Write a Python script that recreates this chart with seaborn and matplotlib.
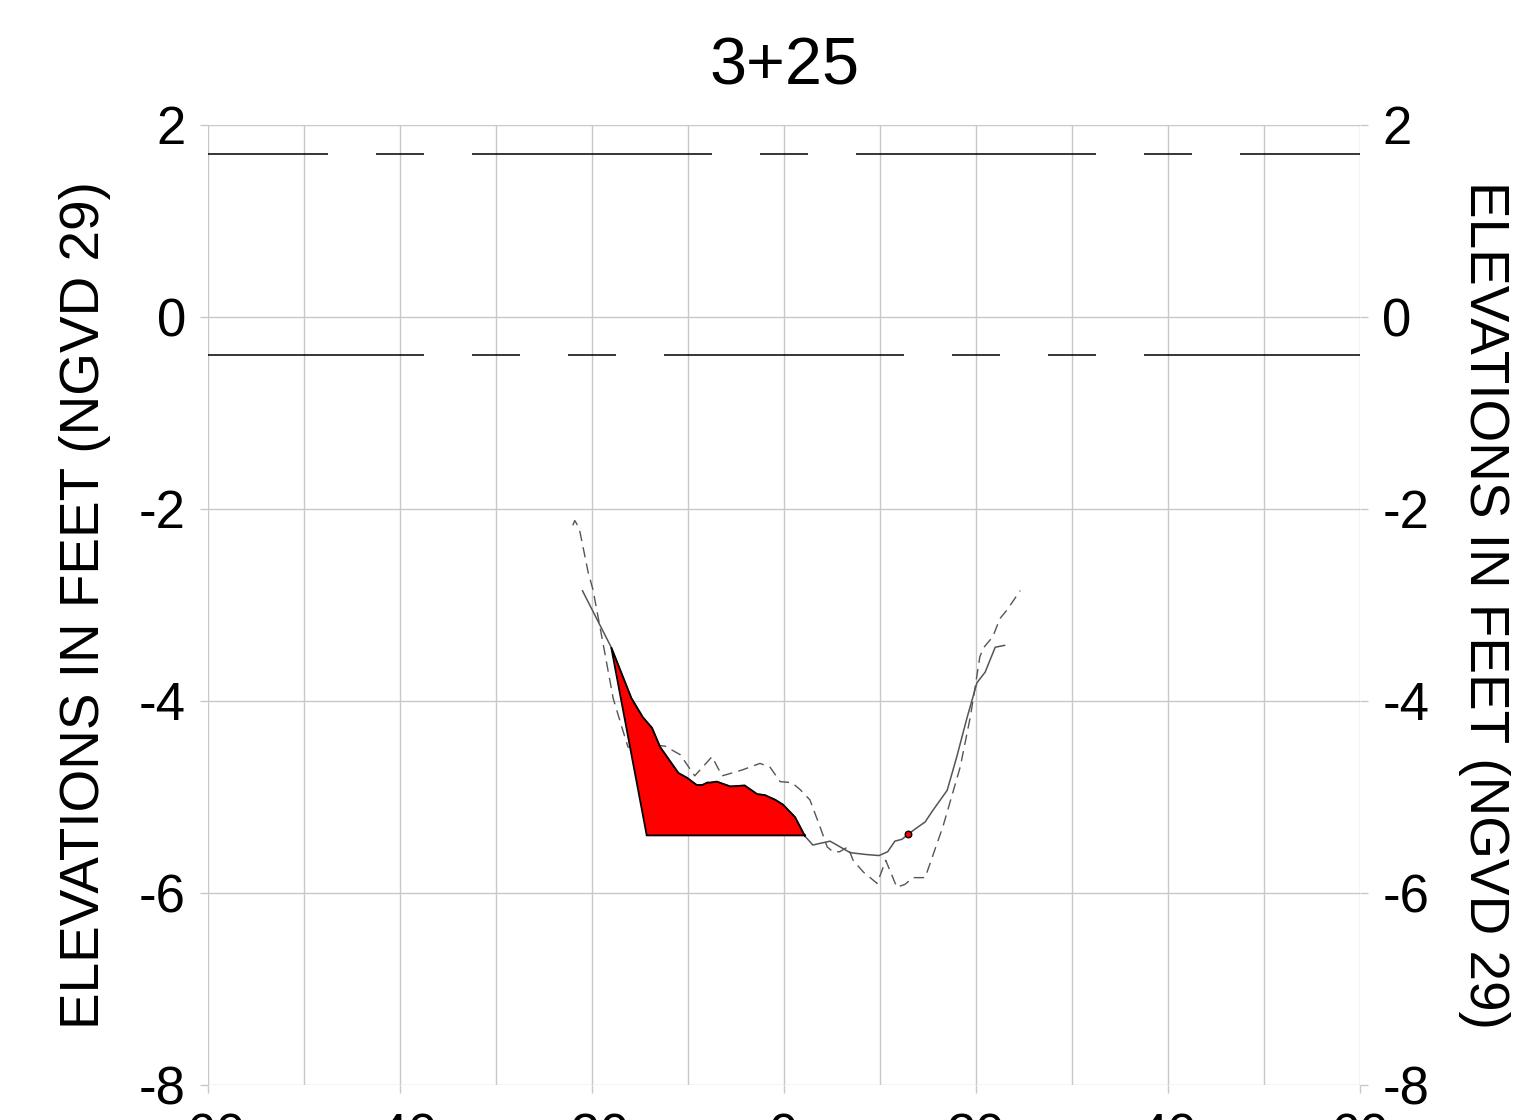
import matplotlib
matplotlib.use("Agg")
import matplotlib.pyplot as plt
import numpy as np
import pandas as pd
import seaborn as sns

# %% data read off the cross-section at station 3+25

station_title = "3+25"
axis_label = "ELEVATIONS IN FEET (NGVD 29)"
x_ticks = [-60, -40, -20, 0, 20, 40, 60]
y_ticks = [-8, -6, -4, -2, 0, 2]

# solid profile (current survey)
surf_x = [-21.0, -18.0, -15.9, -14.7, -13.75, -12.9, -11.0, -10.1, -9.1, -8.5,
          -8.0, -7.7, -7.0, -5.6, -4.1, -2.8, -2.0, -0.9, -0.1, 1.15,
          2.2, 3.0, 4.8, 6.9, 8.65, 9.9, 10.8, 11.55, 12.3, 12.9,
          13.85, 14.7, 15.5, 17.0, 18.0, 19.05, 20.1, 20.95, 22.0, 23.0]
surf_y = [-2.85, -3.44, -3.97, -4.17, -4.28, -4.48, -4.75, -4.80, -4.875, -4.875,
          -4.85, -4.85, -4.84, -4.89, -4.88, -4.97, -4.98, -5.03, -5.08, -5.21,
          -5.41, -5.50, -5.46, -5.58, -5.60, -5.61, -5.57, -5.46, -5.44, -5.39,
          -5.32, -5.26, -5.14, -4.93, -4.58, -4.18, -3.81, -3.70, -3.44, -3.42]

# dashed profile (earlier survey)
prev_x = [-22.0, -21.8, -21.5, -21.25, -20.4, -19.9, -18.85, -17.8, -16.9, -16.25,
          -15.0, -13.45, -12.4, -10.8, -9.3, -7.5, -6.45, -4.4, -2.5, -1.45,
          -0.4, 0.8, 1.65, 2.7, 3.75, 4.5, 5.1, 5.8, 6.65, 7.2,
          8.25, 9.7, 10.6, 11.75, 12.6, 13.45, 14.7, 16.55, 18.35, 19.4,
          19.9, 20.4, 20.75, 21.75, 22.5, 23.25, 24.6]
prev_y = [-2.17, -2.12, -2.17, -2.24, -2.66, -2.84, -3.40, -3.97, -4.27, -4.48,
          -4.49, -4.46, -4.47, -4.56, -4.78, -4.58, -4.78, -4.72, -4.65, -4.69,
          -4.84, -4.85, -4.92, -5.03, -5.31, -5.52, -5.57, -5.57, -5.52, -5.66,
          -5.78, -5.90, -5.66, -5.94, -5.91, -5.84, -5.84, -5.31, -4.69, -4.17,
          -3.86, -3.54, -3.45, -3.33, -3.14, -3.05, -2.85]

# design template (side slope down to the bottom grade)
design_x = [-18.0, -14.3, 2.2]
design_y = [-3.44, -5.4, -5.4]
daylight_x = [12.9]
daylight_y = [-5.39]

# tide lines
mhw = 1.7
mlw = -0.4

# %% style

sns.set_style("whitegrid")
plt.rcParams["font.family"] = ["Liberation Sans", "DejaVu Sans"]
plt.rcParams["lines.scale_dashes"] = False
plt.rcParams["axes.unicode_minus"] = False
plt.rcParams["text.color"] = "black"
plt.rcParams["axes.labelcolor"] = "black"

grid_col = "#c8c8c8"

fig = plt.figure(figsize=(15.35, 11.2), dpi=100)
ax = fig.add_axes([208 / 1535, 35 / 1120, 1152 / 1535, 960 / 1120])

surf = pd.DataFrame({"x": surf_x, "y": surf_y})
prev = pd.DataFrame({"x": prev_x, "y": prev_y})

sns.lineplot(data=prev, x="x", y="y", ax=ax, sort=False, estimator=None,
             color="#555555", lw=1.0, zorder=3)
ax.lines[-1].set_linestyle((0, (7.5, 4.5)))
sns.lineplot(data=surf, x="x", y="y", ax=ax, sort=False, estimator=None,
             color="#555555", lw=1.1, zorder=3)

# cut area between the surface and the template
sel = (np.array(surf_x) >= design_x[0]) & (np.array(surf_x) <= design_x[-1])
poly_x = list(np.array(surf_x)[sel]) + design_x[::-1]
poly_y = list(np.array(surf_y)[sel]) + design_y[::-1]
ax.fill(poly_x, poly_y, facecolor="red", edgecolor="black", lw=1.3, zorder=4)
ax.scatter(daylight_x, daylight_y, s=22, color="red", edgecolor="black",
           linewidth=1.0, zorder=5)

# tide lines
ax.axhline(mhw, color="black", lw=1.1, zorder=2,
           linestyle=(86.4, (172.8, 34.56, 34.56, 34.56)))
ax.axhline(mlw, color="black", lw=1.1, zorder=2,
           linestyle=(17.28, (172.8, 34.56, 34.56, 34.56, 34.56, 34.56)))

ax.set_xlim(-60, 60)
ax.set_ylim(-8, 2)
ax.set_xticks(x_ticks)
ax.set_xticks(np.arange(-60, 61, 10), minor=True)
ax.set_yticks(y_ticks)
ax.grid(True, which="both", color=grid_col, lw=1.0)
for s in ax.spines.values():
    s.set_visible(False)
ax.tick_params(axis="both", which="major", labelsize=38, length=6, width=1.0,
               color=grid_col, labelcolor="black", direction="out", pad=10)
ax.tick_params(axis="x", which="major", pad=14)
ax.tick_params(axis="x", which="minor", length=0)
ax.tick_params(axis="y", left=True, right=True, labelright=True, labelleft=True)
ax.tick_params(axis="x", bottom=True)

ax.set_xlabel("")
ax.set_ylabel(axis_label, fontsize=39.5)
ax.yaxis.set_label_coords(-0.084, 0.5)
ax.text(1.1075, 0.5, axis_label, transform=ax.transAxes, rotation=270,
        fontsize=39.5, ha="center", va="center")

ax.set_title(station_title, fontsize=48, pad=29)

fig.savefig("out.png", dpi=100)
